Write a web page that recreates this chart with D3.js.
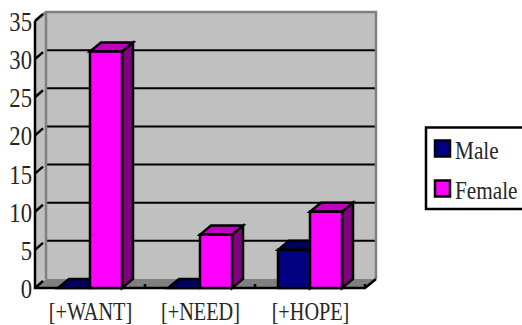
<!DOCTYPE html>
<html>
<head>
<meta charset="utf-8">
<script src="https://cdn.jsdelivr.net/npm/d3@7"></script>
<style>
html,body{margin:0;padding:0;background:#fff;overflow:hidden}
text{font-family:"Liberation Serif",serif;fill:#262626}
</style>
</head>
<body>
<svg id="chart" width="522" height="325"></svg>
<script>
const categories = ["[+WANT]", "[+NEED]", "[+HOPE]"];
const seriesNames = ["Male", "Female"];
const maleValues = [0, 0, 5];
const femaleValues = [31, 7, 10];
const tickValues = [0, 5, 10, 15, 20, 25, 30, 35];

const depthX = 11, depthY = -9;
const svg = d3.select("#chart");

const x = d3.scaleBand().domain(categories).range([35, 365]);
const xSeries = d3.scaleBand().domain(seriesNames).range([23, 87]);
const y = d3.scaleLinear().domain([0, 35]).range([288, 21]);

const pts = a => a.map(p => p.join(",")).join(" ");
const x0 = x.range()[0], x1 = x.range()[1];
const yBase = y(0), yTop = y(35);

// back wall, side wall and floor of the 3-D box
svg.append("polygon").attr("fill", "#c0c0c0")
  .attr("points", pts([[x0 + depthX, yTop + depthY], [x1 + depthX, yTop + depthY], [x1 + depthX, yBase + depthY], [x0 + depthX, yBase + depthY]]));
svg.append("polygon").attr("fill", "#c0c0c0")
  .attr("points", pts([[x0, yBase], [x0 + depthX, yBase + depthY], [x0 + depthX, yTop + depthY], [x0, yTop]]));
svg.append("polygon").attr("fill", "#808080")
  .attr("points", pts([[x0, yBase], [x0 + depthX, yBase + depthY], [x1 + depthX, yBase + depthY], [x1, yBase]]));

// gridlines on the back wall
svg.append("g").selectAll("line").data(tickValues.filter(v => v > 0 && v < 35)).join("line")
  .attr("x1", x0 + depthX).attr("x2", x1 + depthX)
  .attr("y1", d => y(d) + depthY).attr("y2", d => y(d) + depthY)
  .attr("stroke", "#000").attr("stroke-width", 2);

// grey box edges
svg.append("polyline").attr("fill", "none").attr("stroke", "#808080").attr("stroke-width", 2.5)
  .attr("points", pts([[x0, yTop], [x0 + depthX, yTop + depthY], [x1 + depthX, yTop + depthY], [x1 + depthX, yBase + depthY]]));
svg.append("line").attr("stroke", "#808080").attr("stroke-width", 2.5)
  .attr("x1", x0 + depthX).attr("x2", x0 + depthX).attr("y1", yTop + depthY).attr("y2", yBase + depthY);

// front axes and slanted ticks
const axisStroke = sel => sel.attr("stroke", "#000").attr("stroke-width", 2.5).attr("fill", "none");
svg.append("polyline").call(axisStroke)
  .attr("points", pts([[x0, yTop], [x0, yBase], [x1, yBase], [x1 + depthX, yBase + depthY]]));
svg.append("g").selectAll("line").data(tickValues).join("line").call(axisStroke)
  .attr("x1", x0).attr("y1", d => y(d))
  .attr("x2", x0 + 8).attr("y2", d => y(d) - 7);
svg.append("g").selectAll("line").data(categories.slice(1).map(c => x(c)).concat([x1])).join("line").call(axisStroke)
  .attr("x1", d => d).attr("x2", d => d).attr("y1", yBase).attr("y2", yBase - 4);

// bars: front, side and top faces
const palettes = {
  Male: { front: "#000080", top: "#000060", side: "#000060" },
  Female: { front: "#ff00ff", top: "#c000c0", side: "#800080" }
};
const valuesBySeries = { Male: maleValues, Female: femaleValues };
seriesNames.forEach(name => {
  const c = palettes[name];
  categories.forEach((cat, i) => {
    const v = valuesBySeries[name][i];
    const l = x(cat) + xSeries(name), r = l + xSeries.bandwidth(), t = y(v);
    const g = svg.append("g").attr("stroke", "#000").attr("stroke-width", 2.5).attr("stroke-linejoin", "miter");
    g.append("polygon").attr("fill", c.side)
      .attr("points", pts([[r, yBase], [r + depthX, yBase + depthY], [r + depthX, t + depthY], [r, t]]));
    g.append("polygon").attr("fill", c.top)
      .attr("points", pts([[l, t], [l + depthX, t + depthY], [r + depthX, t + depthY], [r, t]]));
    if (v > 0) g.append("rect").attr("x", l).attr("y", t).attr("width", r - l).attr("height", yBase - t).attr("fill", c.front);
  });
});

// tick labels, drawn tall and condensed
svg.append("g").selectAll("text").data(tickValues).join("text")
  .attr("text-anchor", "end")
  .attr("transform", d => `translate(32,${y(d) + 10}) scale(0.84,1)`)
  .attr("font-size", 27)
  .text(d => d);
svg.append("g").selectAll("text").data(categories).join("text")
  .attr("text-anchor", "middle")
  .attr("transform", d => `translate(${x(d) + x.bandwidth() / 2 + 0.5},${yBase + 31.5}) scale(0.81,1)`)
  .attr("font-size", 25)
  .text(d => d);

// legend
const legendY = d3.scaleBand().domain(seriesNames).range([129, 209]);
svg.append("rect").attr("x", 426).attr("y", 127.5).attr("width", 110).attr("height", 81.5)
  .attr("fill", "#fff").attr("stroke", "#000").attr("stroke-width", 2.5);
seriesNames.forEach(name => {
  const top = legendY(name);
  svg.append("rect").attr("x", 435).attr("y", top + 11.5).attr("width", 15).attr("height", 16)
    .attr("fill", palettes[name].front).attr("stroke", "#000").attr("stroke-width", 2.5);
  svg.append("text").attr("transform", `translate(455,${top + 30}) scale(0.85,1)`)
    .attr("font-size", 25).text(name);
});
</script>
</body>
</html>
